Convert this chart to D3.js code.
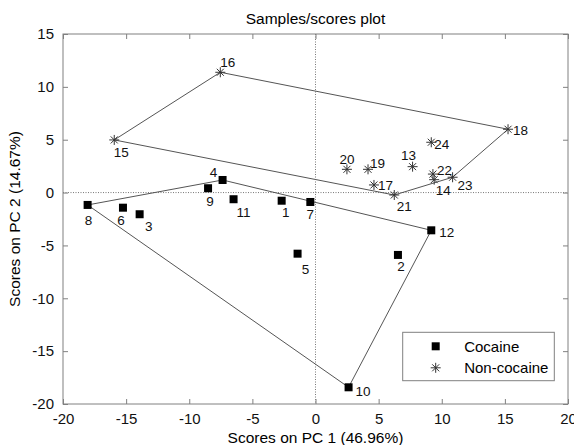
<!DOCTYPE html>
<html>
<head>
<meta charset="utf-8">
<script src="https://cdn.jsdelivr.net/npm/d3@7"></script>
<style>
  body { margin: 0; background: #fff; }
  text { font-family: "Liberation Sans", Arial, sans-serif; }
</style>
</head>
<body>
<svg width="574" height="445"></svg>
<script>
// sample ids and PCA scores
var cocaineIds = [1, 2, 3, 4, 5, 6, 7, 8, 9, 10, 11, 12];
var cocainePC1 = [-2.68, 6.53, -13.93, -7.36, -1.42, -15.25, -0.41, -18.05, -8.51, 2.62, -6.49, 9.17];
var cocainePC2 = [-0.77, -5.9, -2.05, 1.19, -5.78, -1.43, -0.89, -1.17, 0.41, -18.42, -0.63, -3.57];

var otherIds = [13, 14, 15, 16, 17, 18, 19, 20, 21, 22, 23, 24];
var otherPC1 = [7.69, 9.4, -15.94, -7.54, 4.63, 15.25, 4.16, 2.49, 6.24, 9.3, 10.86, 9.17];
var otherPC2 = [2.45, 1.22, 4.98, 11.38, 0.72, 5.99, 2.2, 2.2, -0.23, 1.75, 1.45, 4.76];

var xTicks = [-20, -15, -10, -5, 0, 5, 10, 15, 20];
var yTicks = [-20, -15, -10, -5, 0, 5, 10, 15];

// where each number label sits around its marker
var labelPlace = {
  1: [4, 16, "middle"], 2: [3, 16, "middle"], 3: [9, 17, "middle"], 4: [-9, -3, "middle"],
  5: [8, 20, "middle"], 6: [-2, 17, "middle"], 7: [0, 17, "middle"], 8: [1, 20, "middle"],
  9: [2, 18, "middle"], 10: [7, 9, "start"], 11: [3, 18, "start"], 12: [8, 7, "start"],
  13: [-4, -7, "middle"], 14: [9, 15, "middle"], 15: [7, 17, "middle"], 16: [0, -5, "start"],
  17: [4, 5, "start"], 18: [5, 6, "start"], 19: [2, -1, "start"], 20: [0, -5, "middle"],
  21: [10, 16, "middle"], 22: [4, 1, "start"], 23: [5, 13, "start"], 24: [3, 7, "start"]
};

function main() {
  var svg = d3.select("svg"),
      margin = {top: 34, right: 6, bottom: 41, left: 63},
      width = 574 - margin.left - margin.right,
      height = 445 - margin.top - margin.bottom;

  var g = svg.append("g").attr("transform", `translate(${margin.left},${margin.top})`);

  var x = d3.scaleLinear().domain([-20, 20]).range([0, width]);
  var y = d3.scaleLinear().domain([-20, 15]).range([height, 0]);

  var cocaine = cocaineIds.map((id, i) => ({id: id, pc1: cocainePC1[i], pc2: cocainePC2[i]}));
  var other = otherIds.map((id, i) => ({id: id, pc1: otherPC1[i], pc2: otherPC2[i]}));

  // zero lines
  g.append("line").attr("x1", x(0)).attr("x2", x(0)).attr("y1", 0).attr("y2", height)
    .attr("stroke", "#555").attr("stroke-width", 0.8).attr("stroke-dasharray", "1,1.5");
  g.append("line").attr("x1", 0).attr("x2", width).attr("y1", y(0)).attr("y2", y(0))
    .attr("stroke", "#555").attr("stroke-width", 0.8).attr("stroke-dasharray", "1,1.5");

  // hulls
  [cocaine, other].forEach(function(set) {
    var hull = d3.polygonHull(set.map(d => [x(d.pc1), y(d.pc2)]));
    g.append("path")
      .attr("d", "M" + hull.join("L") + "Z")
      .attr("fill", "none")
      .attr("stroke", "#555")
      .attr("stroke-width", 1);
  });

  // axes
  var axisColor = "#808080";
  var fmt = d => String(d);
  function styleAxis(sel, noText) {
    sel.select(".domain").remove();
    sel.selectAll(".tick line").attr("stroke", axisColor);
    sel.selectAll(".tick text").attr("fill", "#111").style("font-size", "15px");
    if (noText) sel.selectAll(".tick text").remove();
  }
  g.append("g").attr("transform", `translate(0,${height})`)
    .call(d3.axisBottom(x).tickValues(xTicks).tickFormat(fmt).tickSizeInner(-5).tickSizeOuter(0).tickPadding(9))
    .call(s => styleAxis(s));
  g.append("g")
    .call(d3.axisTop(x).tickValues(xTicks).tickSizeInner(-5).tickSizeOuter(0))
    .call(s => styleAxis(s, true));
  g.append("g")
    .call(d3.axisLeft(y).tickValues(yTicks).tickFormat(fmt).tickSizeInner(-5).tickSizeOuter(0).tickPadding(9))
    .call(s => styleAxis(s));
  g.append("g").attr("transform", `translate(${width},0)`)
    .call(d3.axisRight(y).tickValues(yTicks).tickSizeInner(-5).tickSizeOuter(0))
    .call(s => styleAxis(s, true));
  g.append("rect").attr("width", width).attr("height", height)
    .attr("fill", "none").attr("stroke", axisColor).attr("stroke-width", 1);

  // markers
  g.selectAll(".sq").data(cocaine).join("rect")
    .attr("x", d => x(d.pc1) - 4).attr("y", d => y(d.pc2) - 4)
    .attr("width", 8).attr("height", 8).attr("fill", "#000");

  var star = "M-5,0L5,0M0,-5L0,5M-3.5,-3.5L3.5,3.5M-3.5,3.5L3.5,-3.5";
  g.selectAll(".st").data(other).join("path")
    .attr("transform", d => `translate(${x(d.pc1)},${y(d.pc2)})`)
    .attr("d", star).attr("stroke", "#333").attr("stroke-width", 1).attr("fill", "none");

  // number labels
  g.selectAll(".lbl").data(cocaine.concat(other)).join("text")
    .attr("x", d => x(d.pc1) + labelPlace[d.id][0])
    .attr("y", d => y(d.pc2) + labelPlace[d.id][1])
    .attr("text-anchor", d => labelPlace[d.id][2])
    .style("font-size", "13.5px").attr("fill", "#111")
    .text(d => d.id);

  // titles
  svg.append("text").attr("x", margin.left + width / 2).attr("y", 24)
    .attr("text-anchor", "middle").style("font-size", "15.5px").text("Samples/scores plot");
  svg.append("text").attr("x", margin.left + width / 2).attr("y", 443)
    .attr("text-anchor", "middle").style("font-size", "15.5px").text("Scores on PC 1 (46.96%)");
  svg.append("text").attr("transform", `translate(20,${margin.top + height / 2}) rotate(-90)`)
    .attr("text-anchor", "middle").style("font-size", "15.5px").text("Scores on PC 2 (14.67%)");

  // legend
  var lg = g.append("g").attr("transform", `translate(${402.7 - margin.left},${332.3 - margin.top})`);
  lg.append("rect").attr("width", 151.6).attr("height", 48.4)
    .attr("fill", "#fff").attr("stroke", axisColor).attr("stroke-width", 1);
  lg.append("rect").attr("x", 29).attr("y", 10).attr("width", 8).attr("height", 8).attr("fill", "#000");
  lg.append("path").attr("transform", "translate(33,35.5)").attr("d", star)
    .attr("stroke", "#333").attr("stroke-width", 1).attr("fill", "none");
  lg.append("text").attr("x", 61.5).attr("y", 19.5).style("font-size", "15px").text("Cocaine");
  lg.append("text").attr("x", 61.5).attr("y", 41).style("font-size", "15px").text("Non-cocaine");
}
main();
</script>
</body>
</html>
